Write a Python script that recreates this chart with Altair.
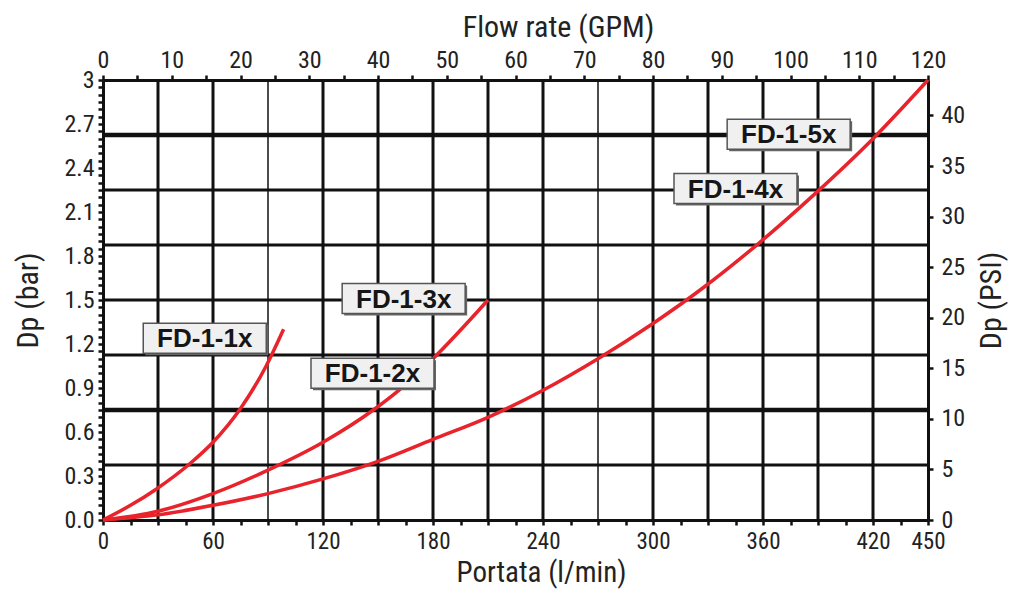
import altair as alt
import pandas as pd

# ---- Curves: Portata (l/min) vs Dp (bar) ----
q_1x = [0, 15, 29, 47.5, 60, 75, 89, 98.5]
dp_1x = [0, 0.10, 0.21, 0.385, 0.53, 0.76, 1.05, 1.30]

q_23x = [0, 30, 60, 90, 120, 148, 160, 180, 210]
dp_23x = [0, 0.06, 0.18, 0.34, 0.53, 0.755, 0.87, 1.10, 1.50]

q_45x = [0, 30, 60, 90, 120, 150, 180, 210, 240, 270, 300, 327, 358, 388, 420, 450]
dp_45x = [0, 0.035, 0.10, 0.18, 0.28, 0.40, 0.55, 0.70, 0.885, 1.10, 1.34, 1.58, 1.89, 2.22, 2.60, 3.00]

# ---- Curve labels ----
label_text = ["FD-1-1x", "FD-1-2x", "FD-1-3x", "FD-1-4x", "FD-1-5x"]
label_q = [55.5, 147, 164, 345, 374]
label_dp = [1.24, 1.00, 1.51, 2.26, 2.63]

# ---- Grid ----
grid_q = [30, 60, 90, 120, 150, 180, 210, 240, 270, 300, 330, 360, 390, 420]
grid_q_w = [3, 3, 1.5, 3, 3, 3, 3, 3, 1.5, 3, 3, 3, 3, 3]
grid_dp = [0.375, 0.75, 1.125, 1.5, 1.875, 2.25, 2.625]
grid_dp_w = [3, 4.5, 3, 3, 3, 3, 4.5]

# ---- Axis ticks ----
q_ticks = list(range(0, 451, 15))
dp_ticks = [round(i * 0.05, 2) for i in range(61)]
gpm_ticks = list(range(0, 121, 5))
psi_ticks = list(range(0, 41, 5))

curves = pd.concat([
    pd.DataFrame({"q": q_1x, "dp": dp_1x, "s": ["FD-1-1x"] * len(q_1x)}),
    pd.DataFrame({"q": q_23x, "dp": dp_23x, "s": ["FD-1-2x/3x"] * len(q_23x)}),
    pd.DataFrame({"q": q_45x, "dp": dp_45x, "s": ["FD-1-4x/5x"] * len(q_45x)}),
], ignore_index=True)

labels = pd.DataFrame({"t": label_text, "q": label_q, "dp": label_dp})
vgrid = pd.DataFrame({"q": grid_q, "w": grid_q_w})
hgrid = pd.DataFrame({"dp": grid_dp, "w": grid_dp_w})

NARROW = "Liberation Sans Narrow, Roboto Condensed, DejaVu Sans Condensed, Liberation Sans, sans-serif"
RED = "#e8232b"

xs = alt.Scale(domain=[0, 450], nice=False, zero=True)
ys = alt.Scale(domain=[0, 3], nice=False, zero=True)

x_axis = alt.Axis(
    orient="bottom", values=q_ticks, grid=False, title="Portata (l/min)",
    labelExpr="(datum.value % 60 == 0 || datum.value == 450) ? datum.label : ''",
    labelOverlap=False, labelFlush=False, labelPadding=5, labelFontSize=23,
    titleFontSize=29, titlePadding=5, titleX=438,
)
y_axis = alt.Axis(
    orient="left", values=dp_ticks, grid=False, title="Dp (bar)",
    labelExpr="abs(datum.value*10/3 - round(datum.value*10/3)) < 0.001 ? (datum.value == 3 ? '3' : format(datum.value, '.1f')) : ''",
    labelOverlap=False, labelPadding=4, titlePadding=20,
)

vlines = alt.Chart(vgrid).mark_rule(color="#111").encode(
    x=alt.X("q:Q", scale=xs, axis=x_axis),
    strokeWidth=alt.StrokeWidth("w:Q", scale=None),
)
hlines = alt.Chart(hgrid).mark_rule(color="#111").encode(
    y=alt.Y("dp:Q", scale=ys, axis=y_axis),
    strokeWidth=alt.StrokeWidth("w:Q", scale=None),
)
lines = alt.Chart(curves).mark_line(color=RED, strokeWidth=3.5, interpolate="monotone").encode(
    x=alt.X("q:Q", scale=xs, axis=x_axis),
    y=alt.Y("dp:Q", scale=ys, axis=y_axis),
    detail="s:N",
)
BOX = "M-1,-0.244L1,-0.244L1,0.244L-1,0.244Z"
shadow = alt.Chart(labels).mark_point(
    shape=BOX, size=15129, filled=True, color="#666", opacity=1, xOffset=2, yOffset=2
).encode(x=alt.X("q:Q", scale=xs, axis=x_axis), y=alt.Y("dp:Q", scale=ys, axis=y_axis))
boxes = alt.Chart(labels).mark_point(
    shape=BOX, size=15129, filled=True, fill="#f0f0f0", stroke="#555", strokeWidth=1.5, opacity=1
).encode(x=alt.X("q:Q", scale=xs, axis=x_axis), y=alt.Y("dp:Q", scale=ys, axis=y_axis))
texts = alt.Chart(labels).mark_text(
    font="Liberation Sans, Arial, sans-serif", fontWeight="bold", fontSize=26, color="#161616",
    align="center", baseline="middle", dy=1
).encode(x=alt.X("q:Q", scale=xs, axis=x_axis), y=alt.Y("dp:Q", scale=ys, axis=y_axis), text="t:N")

main = alt.layer(vlines, hlines, lines, shadow, boxes, texts)

sec = alt.Chart(pd.DataFrame({"gpm": [0, 120], "psi": [0, 43.51]})).mark_point(opacity=0).encode(
    x=alt.X("gpm:Q", scale=alt.Scale(domain=[0, 120], nice=False),
            axis=alt.Axis(orient="top", values=gpm_ticks, grid=False, title="Flow rate (GPM)",
                          labelExpr="datum.value % 10 == 0 ? datum.label : ''",
                          labelOverlap=False, labelFlush=False, labelPadding=3,
                          titlePadding=6, titleX=455)),
    y=alt.Y("psi:Q", scale=alt.Scale(domain=[0, 43.51], nice=False),
            axis=alt.Axis(orient="right", values=psi_ticks, grid=False, title="Dp (PSI)",
                          titleAngle=270, titleBaseline="top", labelOverlap=False,
                          labelPadding=8, titlePadding=12)),
)

chart = alt.layer(main, sec).resolve_scale(x="independent", y="independent").properties(
    width=825, height=440,
    autosize=alt.AutoSizeParams(type="none"),
    padding={"left": 95, "top": 72, "right": 82, "bottom": 72},
    background="white",
).configure_view(stroke=None).configure_axis(
    labelFont=NARROW, labelFontSize=24, labelColor="#222",
    titleFont=NARROW, titleFontSize=30, titleFontWeight="normal", titleColor="#222",
    domainColor="#111", domainWidth=3, tickColor="#111", tickWidth=2.5, tickSize=5,
    labelOverlap=False,
)

chart.save("out.html", embed_options={"renderer": "svg", "actions": False})
